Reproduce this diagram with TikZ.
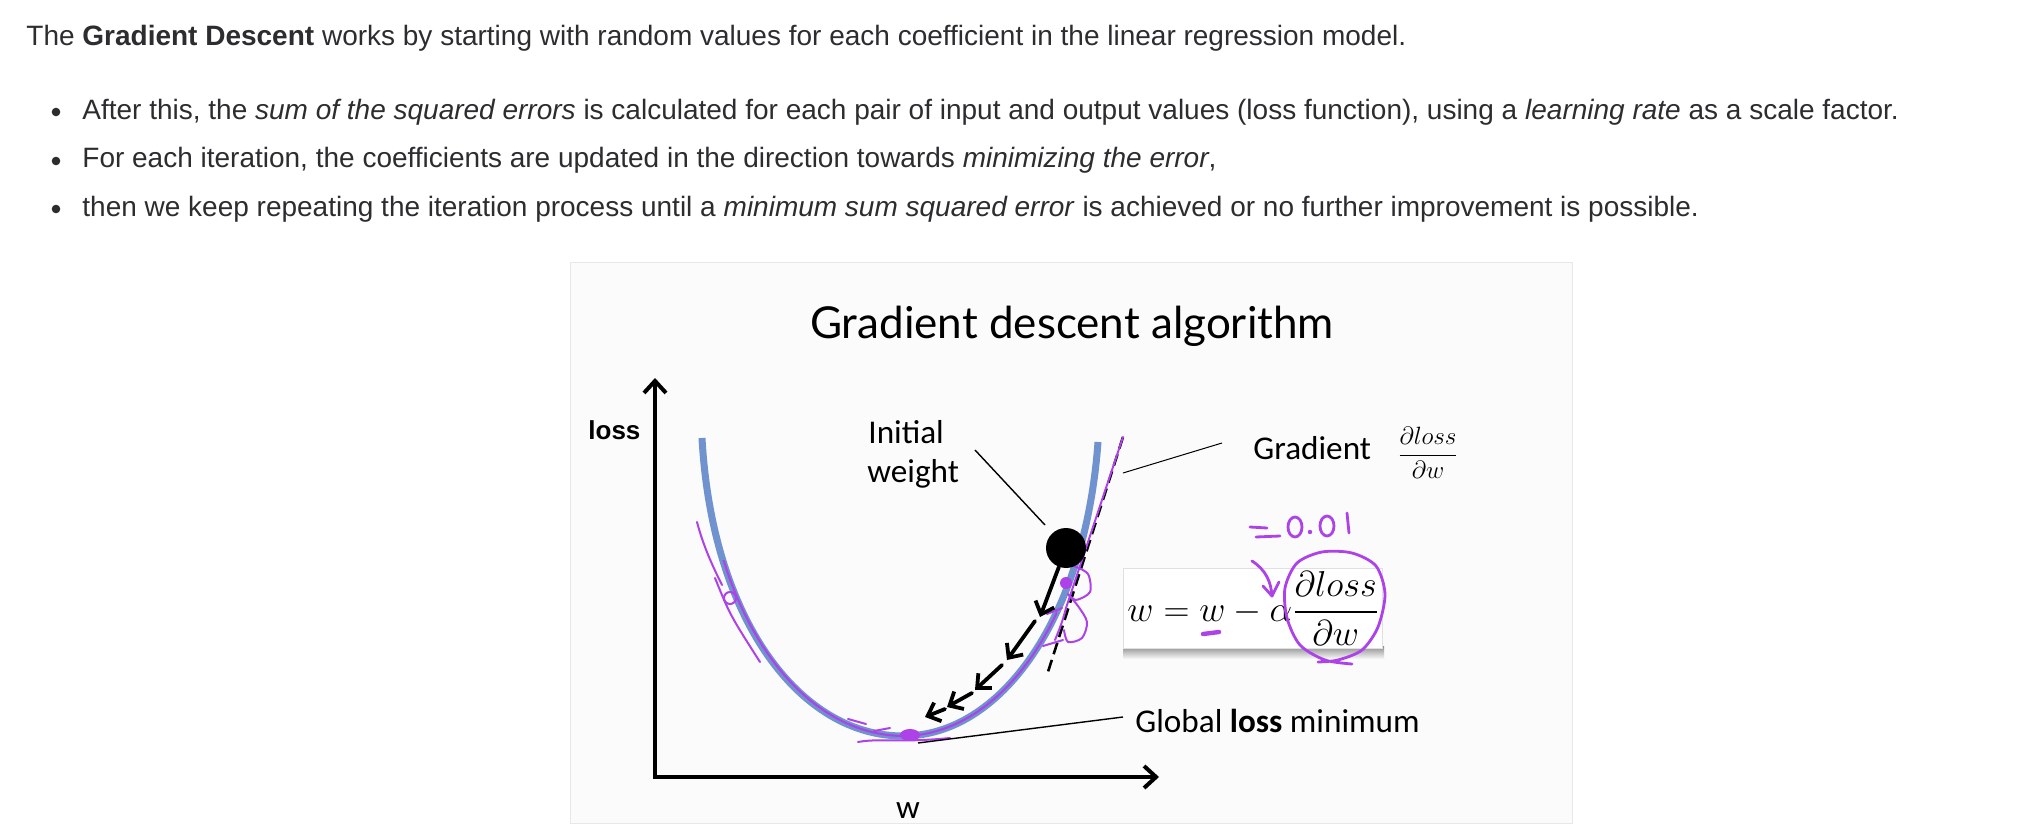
\RequirePackage{fix-cm}
\documentclass[tikz,border=0pt]{standalone}
\usepackage{amsmath}
\usepackage{fontspec}
\setmainfont{Liberation Sans}
\newfontfamily\carlito{Carlito}
\newfontfamily\titlefont{Lato}
\usetikzlibrary{arrows.meta}
\definecolor{txt}{RGB}{45,45,48}
\definecolor{curveblue}{RGB}{112,146,206}
\definecolor{penc}{RGB}{172,66,232}
\definecolor{slidebg}{RGB}{251,251,251}
\definecolor{slideedge}{RGB}{232,232,232}
\tikzset{
  body/.style={font=\fontsize{14}{17}\selectfont, text=txt, anchor=base west, inner sep=0pt},
  bulletdot/.style={circle, fill=txt, minimum size=4.3pt, inner sep=0pt},
  lbl/.style={font=\carlito\fontsize{16.6}{19}\selectfont, anchor=base west, inner sep=0pt},
  leader/.style={draw=black, line width=0.7pt},
  stepar/.style={-{Straight Barb[length=5.5pt,width=10pt]}, line width=1.9pt, line cap=round},
  penline/.style={draw=penc, line width=1pt, line cap=round, line join=round},
  hand/.style={draw=penc, line width=1.4pt, line cap=round, line join=round},
}
\begin{document}
\begin{tikzpicture}[x=0.5pt,y=-0.5pt]
\useasboundingbox (0,0) rectangle (2042,840);
\fill[white] (0,0) rectangle (2042,840);

% ---- text above ----
\node[body] (l1) at (26,46) {The \textbf{Gradient Descent} works by starting with random values for each coefficient in the linear regression model.};
\node[bulletdot] (d1) at (56,112) {};
\node[bulletdot] (d2) at (56,161) {};
\node[bulletdot] (d3) at (56,209) {};
\node[body] (b1) at (82,120) {After this, the \textit{sum of the squared errors} is calculated for each pair of input and output values (loss function), using a \textit{learning rate} as a scale factor.};
\node[body] (b2) at (82,168) {For each iteration, the coefficients are updated in the direction towards \textit{minimizing the error},};
\node[body] (b3) at (82,216) {then we keep repeating the iteration process until a \textit{minimum sum squared error} is achieved or no further improvement is possible.};

% ---- slide ----
\draw[slideedge, fill=slidebg] (570,262) rectangle (1572,823);
\node[font=\titlefont\fontsize{22}{26}\selectfont, anchor=base, inner sep=0pt] (title) at (1072,338) {Gradient descent algorithm};

% axes
\coordinate (O) at (655,777);
\coordinate (ytop) at (655,378);
\coordinate (xend) at (1159,777);
\draw[line width=2pt, line join=miter, {Straight Barb[length=6pt,width=11pt]}-{Straight Barb[length=6pt,width=11pt]}] (ytop) -- (O) -- (xend);
\node[font=\bfseries\fontsize{13}{15}\selectfont, anchor=base west, inner sep=0pt] (lossl) at (588,439) {loss};
\node[lbl, anchor=base] (wl) at (908,818) {w};

% blue loss curve
\coordinate (cL) at (702,438);
\coordinate (cM) at (903,736);
\coordinate (cR) at (1098,442);
\draw[curveblue, line width=3.5pt] (cL) .. controls (712,620) and (800,736) .. (cM) .. controls (1000,736) and (1085,620) .. (cR);

% tangent (gradient)
\coordinate (tanTop) at (1123,437);
\coordinate (tanBot) at (1047,675);
\draw[line width=1.3pt, dash pattern=on 6pt off 3pt] (tanTop) -- (tanBot);

% purple trace along the curve
\begin{scope}
  \clip (600,560) rectangle (1057,760);
  \draw[penline, shift={(1,-1)}] (cL) .. controls (712,620) and (800,736) .. (cM) .. controls (1000,736) and (1085,620) .. (cR);
\end{scope}
\draw[penline] (697,522) .. controls (703,545) and (712,565) .. (722,585);
\draw[penline] (1055,640) .. controls (1060,628) and (1063,620) .. (1066,608) -- (tanTop);
\draw[penline] (715,578) .. controls (730,615) .. (760,662);
\draw[penline] (730,598) circle (6);
\draw[penline] (858,742) .. controls (880,738) and (900,743) .. (950,738);
\draw[penline] (848,719) -- (866,724);
\draw[penline] (874,731) -- (890,728);
\fill[penc] (910,735) ellipse (10 and 6);
\fill[penc] (1066,583) circle (6);
\draw[penline] plot[smooth] coordinates {(1074,566) (1088,574) (1090,592) (1076,600) (1068,594) (1078,606) (1087,622) (1082,638) (1068,642) (1064,630)};
\draw[penline] (1047,614) -- (1062,608);
\draw[penline] (1043,646) -- (1063,640);

% ball and descent arrows
\node[circle, fill=black, minimum size=20pt, inner sep=0pt] (ball) at (1066,548) {};
\coordinate (e1) at (1040,617);
\coordinate (s2) at (1035,621); \coordinate (e2) at (1007,660);
\coordinate (s3) at (1002,665); \coordinate (e3) at (975,690);
\coordinate (s4) at (972,693);  \coordinate (e4) at (947,707);
\coordinate (s5) at (945,709);  \coordinate (e5) at (925,717);
\draw[stepar] (ball) -- (e1);
\draw[stepar] (s2) -- (e2);
\draw[stepar] (s3) -- (e3);
\draw[stepar] (s4) -- (e4);
\draw[stepar] (s5) -- (e5);

% labels and leaders
\node[lbl] (init) at (868,443) {Initial};
\node[lbl] (weight) at (867,482) {weight};
\coordinate (iwA) at (975,450);
\coordinate (iwB) at (1045,525);
\draw[leader] (iwA) -- (iwB);

\node[lbl] (grad) at (1253,459) {Gradient};
\node[inner sep=0pt, font=\fontsize{12.5}{15}\selectfont] (gradfrac) at (1428,453) {$\dfrac{\partial loss}{\partial w}$};
\coordinate (grA) at (1123,473);
\coordinate (grB) at (1222,443);
\draw[line width=0.5pt] (grA) -- (grB);

\node[lbl] (glob) at (1135,732) {Global \textbf{loss} minimum};
\coordinate (gmA) at (918,743);
\coordinate (gmB) at (1123,717);
\draw[leader] (gmA) -- (gmB);

% formula box
\shade[top color=black!45, bottom color=slidebg] (1123,646) rectangle (1384,659);
\draw[fill=white, draw=black!12] (1123,568) rectangle (1382,648);
\node[font=\fontsize{18}{21}\selectfont, anchor=base west, inner sep=0pt] (formula) at (1127,621) {$w = w - \alpha\dfrac{\partial loss}{\partial w}$};

% handwriting
\draw[hand] (1250,527) -- (1267,528);
\draw[hand] (1256,537) -- (1280,536);
\draw[hand] (1295,527) ellipse (7 and 10);
\fill[penc] (1310,532) circle (2.2);
\draw[hand] (1327,526) ellipse (7 and 10);
\draw[hand] (1347,513) -- (1349,533);
\draw[hand] (1252,561) .. controls (1266,570) and (1271,582) .. (1272,596);
\draw[hand] (1263,586) -- (1272,596) -- (1279,582);
\draw[hand] plot[smooth] coordinates {(1352,664) (1325,660) (1300,645) (1287,618) (1285,588) (1297,563) (1322,552) (1352,553) (1376,566) (1385,594) (1378,627) (1362,650) (1338,660) (1318,662)};
\draw[penc, line width=2.2pt, line cap=round] (1203,634) -- (1219,632);
\end{tikzpicture}
\end{document}
